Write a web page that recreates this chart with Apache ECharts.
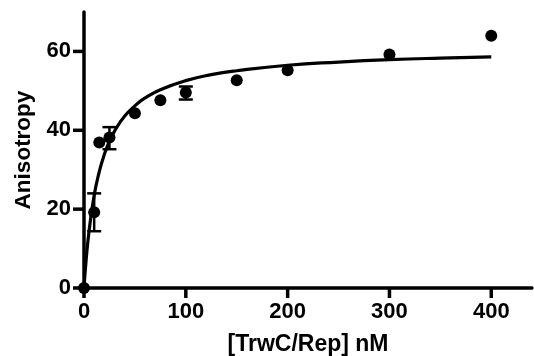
<!DOCTYPE html>
<html>
<head>
<meta charset="utf-8">
<script src="https://cdn.jsdelivr.net/npm/echarts@6/dist/echarts.min.js"></script>
<style>
  html, body { margin: 0; padding: 0; background: #fff; }
  #chart { width: 534px; height: 356px; }
</style>
</head>
<body>
<div id="chart"></div>
<script>
// measured points (mean)
const concNM = [0, 10, 15, 25, 50, 75, 100, 150, 200, 300, 400];
const anisotropy = [0, 19.2, 36.9, 38.2, 44.3, 47.6, 49.6, 52.7, 55.2, 59.2, 64];

// error bars that are visible outside the markers
const errConc = [10, 25, 100];
const errLow = [14.4, 35.2, 47.8];
const errHigh = [24.0, 40.8, 51.1];

// fitted curve
const fitConc = [0, 2, 5, 10, 15, 20, 25, 30, 40, 50, 60, 75, 100, 125, 150, 200, 250, 300, 350, 400];
const fitAniso = [0, 6.8, 14.5, 23.5, 29.5, 33.9, 37.2, 39.8, 43.6, 46.2, 48.2, 50.3, 52.6, 54.1, 55.1, 56.5, 57.3, 57.9, 58.3, 58.6];

const xTicks = [0, 100, 200, 300, 400];
const yTicks = [0, 20, 40, 60];

const font = 'Liberation Sans, Arial, sans-serif';

const chart = echarts.init(document.getElementById('chart'));

const option = {
    animation: false,
    grid: {left: 84, right: 2, top: 12, bottom: 68, outerBoundsMode: 'none', containLabel: false},
    xAxis: {
        type: 'value',
        min: 0,
        max: 440,
        name: '[TrwC/Rep] nM',
        nameLocation: 'middle',
        nameGap: 45,
        nameTextStyle: {color: '#000', fontFamily: font, fontWeight: 'bold', fontSize: 23},
        splitLine: {show: false},
        axisLine: {onZero: false, lineStyle: {color: '#000', width: 3.5}},
        axisTick: {show: false},
        axisLabel: {customValues: xTicks, margin: 13, color: '#000', fontFamily: font, fontWeight: 'bold', fontSize: 22}
    },
    yAxis: {
        type: 'value',
        min: 0,
        max: 70,
        name: 'Anisotropy',
        nameLocation: 'middle',
        nameGap: 49,
        nameTextStyle: {color: '#000', fontFamily: font, fontWeight: 'bold', fontSize: 22.5},
        splitLine: {show: false},
        axisLine: {onZero: false, lineStyle: {color: '#000', width: 3.5}},
        axisTick: {show: false},
        axisLabel: {customValues: yTicks, margin: 13, color: '#000', fontFamily: font, fontWeight: 'bold', fontSize: 22}
    },
    series: [
        {
            // x-axis tick marks, placed on the axis scale
            type: 'scatter',
            data: xTicks.map(v => [v, 0]),
            clip: false,
            silent: true,
            symbol: 'rect',
            symbolSize: [3.5, 10],
            symbolOffset: [0, 5],
            itemStyle: {color: '#000', opacity: 1},
            z: 1
        },
        {
            // y-axis tick marks
            type: 'scatter',
            data: yTicks.map(v => [0, v]),
            clip: false,
            silent: true,
            symbol: 'rect',
            symbolSize: [11, 3.5],
            symbolOffset: [-5.5, 0],
            itemStyle: {color: '#000', opacity: 1},
            z: 1
        },
        {
            type: 'line',
            data: fitConc.map((x, i) => [x, fitAniso[i]]),
            smooth: true,
            showSymbol: false,
            lineStyle: {color: '#000', width: 3.2},
            z: 2
        },
        {
            type: 'custom',
            data: errConc.map((x, i) => [x, errLow[i], errHigh[i]]),
            renderItem: (params, api) => {
                const lo = api.coord([api.value(0), api.value(1)]);
                const hi = api.coord([api.value(0), api.value(2)]);
                const half = 7;
                const style = {stroke: '#000', lineWidth: 2.5};
                return {
                    type: 'group',
                    children: [
                        {type: 'line', shape: {x1: lo[0], y1: lo[1], x2: hi[0], y2: hi[1]}, style},
                        {type: 'line', shape: {x1: lo[0] - half, y1: lo[1], x2: lo[0] + half, y2: lo[1]}, style},
                        {type: 'line', shape: {x1: hi[0] - half, y1: hi[1], x2: hi[0] + half, y2: hi[1]}, style}
                    ]
                };
            },
            z: 3
        },
        {
            type: 'scatter',
            data: concNM.map((x, i) => [x, anisotropy[i]]),
            symbol: 'circle',
            symbolSize: 12,
            itemStyle: {color: '#000', opacity: 1},
            z: 4
        }
    ]
};

chart.setOption(option);
</script>
</body>
</html>
